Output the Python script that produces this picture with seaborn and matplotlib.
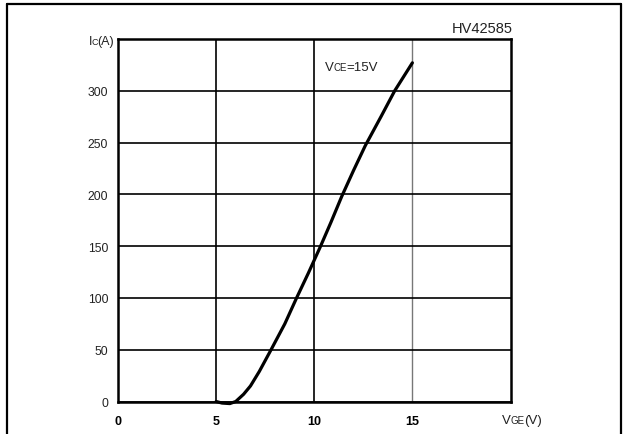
import matplotlib
matplotlib.use("Agg")
import matplotlib.pyplot as plt
import seaborn as sns
import pandas as pd
from matplotlib.lines import Line2D
from matplotlib.offsetbox import TextArea, HPacker, AnnotationBbox

# Data
vge = [5.0, 5.3, 5.7, 6.0, 6.4, 6.75, 7.2, 7.8, 8.5, 9.1, 9.7, 10.3, 10.85, 11.4, 12.0, 12.6, 13.4, 14.1, 15.0]
ic = [0, -1.5, -2, 0, 7, 15, 29, 50, 75, 100, 124, 149, 173, 198, 223, 247, 275, 300, 327]
x_ticks = [0, 5, 10, 15]
y_ticks = [0, 50, 100, 150, 200, 250, 300]

sns.set_theme(style="white")
plt.rcParams['font.family'] = ['Liberation Sans', 'DejaVu Sans']

fig = plt.figure(figsize=(6.23, 4.35), dpi=100)
ax = fig.add_axes([118/623, 1-402.5/435, (510.5-118)/623, (402.5-40)/435])

df = pd.DataFrame({"VGE": vge, "IC": ic})
sns.lineplot(data=df, x="VGE", y="IC", ax=ax, color="black", linewidth=2.3,
             estimator=None, sort=False)
for l in ax.lines:
    l.set_clip_on(False)
    l.set_zorder(5)
    l.set_solid_joinstyle("round")

ax.set_xlim(0, 20)
ax.set_ylim(0, 350)
ax.set_xticks(x_ticks)
ax.set_xticklabels([str(v) for v in x_ticks], fontweight="bold", fontsize=9)
ax.set_yticks(y_ticks)
ax.set_yticklabels([str(v) for v in y_ticks], fontsize=8.8, color="#222222")
ax.tick_params(axis="both", length=0)
ax.tick_params(axis="x", pad=10, colors="black")
ax.tick_params(axis="y", pad=7)
ax.set_xlabel("")
ax.set_ylabel("")

ax.grid(True, color="black", linewidth=1.2)
xg = ax.get_xgridlines()
if len(xg) >= 4:
    xg[3].set_color("#777777")
    xg[3].set_linewidth(1.0)
for s in ax.spines.values():
    s.set_visible(True)
    s.set_color("black")
    s.set_linewidth(1.8)


def mixed(parts):
    boxes = [TextArea(t, textprops=dict(fontsize=fs, color="#222222")) for t, fs in parts]
    return HPacker(children=boxes, align="baseline", pad=0, sep=-0.4)


big, small = 9.5, 7.0
# VCE=15V label
ab = AnnotationBbox(mixed([("V", big), ("CE", small), ("=15V", big)]), (10.55, 323),
                    xycoords="data", box_alignment=(0, 0.5), frameon=False, pad=0)
ax.add_artist(ab)
# Ic(A) label
ab2 = AnnotationBbox(mixed([("I", 9), ("C", 6.5), ("(A)", 9)]), (114/623, 1-42/435),
                     xycoords="figure fraction", box_alignment=(1, 0.5), frameon=False, pad=0)
fig.add_artist(ab2)
# VGE(V) label
ab3 = AnnotationBbox(mixed([("V", 9.5), ("GE", 7), ("(V)", 9.5)]), (502/623, 1-421/435),
                     xycoords="figure fraction", box_alignment=(0, 0.5), frameon=False, pad=0)
fig.add_artist(ab3)

fig.text(513/623, 1-29/435, "HV42585", fontsize=10.5, ha="right", va="center", color="#222222")

# Outer frame
lw = 1.6
fig.add_artist(Line2D([7/623, 7/623], [0, 1-5/435], transform=fig.transFigure, color="black", lw=lw))
fig.add_artist(Line2D([7/623, 621/623], [1-5/435, 1-5/435], transform=fig.transFigure, color="black", lw=lw))
fig.add_artist(Line2D([621/623, 621/623], [0, 1-5/435], transform=fig.transFigure, color="black", lw=lw))

fig.savefig("out.png", dpi=100)
